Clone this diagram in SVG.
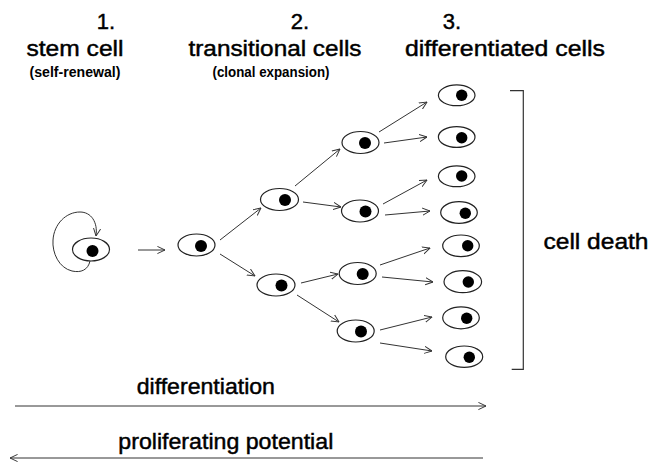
<svg xmlns="http://www.w3.org/2000/svg" width="649" height="462" viewBox="0 0 649 462">
  <style>
    .cell ellipse { fill: #fff; stroke: #222; stroke-width: 1.2; }
    .cell circle { fill: #000; }
    .conn { fill: none; stroke: #333; stroke-width: 1; marker-end: url(#open); }
    .head { font-family: "Liberation Sans", Arial, sans-serif; font-size: 22px; fill: #000; stroke: #000; stroke-width: 0.45; text-anchor: middle; }
    .sub { font-family: "Liberation Sans", Arial, sans-serif; font-size: 14.5px; font-weight: bold; fill: #000; text-anchor: middle; }
    .axis { font-family: "Liberation Sans", Arial, sans-serif; font-size: 22px; fill: #000; stroke: #000; stroke-width: 0.45; }
  </style>
  <defs>
    <marker id="open" viewBox="0 0 10 10" refX="9.5" refY="5" markerWidth="8" markerHeight="9" markerUnits="userSpaceOnUse" orient="auto">
      <path d="M0,0.5 L9.5,5 L0,9.5" fill="none" stroke="#333" stroke-width="1.2"/>
    </marker>
  </defs>
  <rect width="649" height="462" fill="#fff"/>

  <!-- column headings -->
  <g id="headings">
    <text class="head" x="106" y="29">1.</text>
    <text class="head" x="75" y="56" textLength="97" lengthAdjust="spacingAndGlyphs">stem cell</text>
    <text class="sub" x="75" y="77" textLength="91" lengthAdjust="spacingAndGlyphs">(self-renewal)</text>
    <text class="head" x="300" y="29">2.</text>
    <text class="head" x="275" y="56" textLength="173" lengthAdjust="spacingAndGlyphs">transitional cells</text>
    <text class="sub" x="271" y="77" textLength="117" lengthAdjust="spacingAndGlyphs">(clonal expansion)</text>
    <text class="head" x="452" y="29">3.</text>
    <text class="head" x="505" y="56" textLength="200" lengthAdjust="spacingAndGlyphs">differentiated cells</text>
  </g>

  <!-- connectors -->
  <g id="connectors">
    <path class="conn" d="M90,261 C88,270 81,273 72,271 C59,268 52,253 53,240 C54,224 66,212 80,212 C91,212 98,222 96,236"/>
    <line class="conn" x1="138" y1="250" x2="165" y2="250"/>
    <line class="conn" x1="220" y1="240" x2="261" y2="208"/>
    <line class="conn" x1="220" y1="254" x2="255" y2="276"/>
    <line class="conn" x1="295" y1="186" x2="340" y2="149"/>
    <line class="conn" x1="303" y1="202" x2="341" y2="207"/>
    <line class="conn" x1="301" y1="283" x2="338" y2="274"/>
    <line class="conn" x1="297" y1="295" x2="339" y2="322"/>
    <line class="conn" x1="379" y1="132" x2="427" y2="102"/>
    <line class="conn" x1="384" y1="143" x2="427" y2="137"/>
    <line class="conn" x1="383" y1="204" x2="427" y2="180"/>
    <line class="conn" x1="385" y1="215" x2="430" y2="211"/>
    <line class="conn" x1="380" y1="265" x2="430" y2="248"/>
    <line class="conn" x1="382" y1="277" x2="433" y2="282"/>
    <line class="conn" x1="380" y1="330" x2="432" y2="317"/>
    <line class="conn" x1="380" y1="343" x2="432" y2="351"/>
    <!-- long axis arrows -->
    <line class="conn" x1="15" y1="406" x2="486" y2="406"/>
    <line class="conn" x1="483" y1="458" x2="10" y2="458"/>
  </g>

  <!-- stem cell -->
  <g id="stem" class="cell"><ellipse cx="91" cy="249.5" rx="18.5" ry="11.5"/><circle cx="92.5" cy="251" r="6"/></g>
  <!-- transitional cells -->
  <g id="t1" class="cell"><ellipse cx="196.5" cy="245" rx="18.5" ry="11"/><circle cx="201" cy="246" r="6"/></g>
  <g id="t2a" class="cell"><ellipse cx="279.5" cy="199.5" rx="19" ry="11"/><circle cx="285" cy="200" r="6"/></g>
  <g id="t2b" class="cell"><ellipse cx="276" cy="285" rx="19" ry="11"/><circle cx="281.5" cy="285.5" r="6"/></g>
  <g id="t3a" class="cell"><ellipse cx="360.5" cy="142.5" rx="18.5" ry="11"/><circle cx="365" cy="143" r="6"/></g>
  <g id="t3b" class="cell"><ellipse cx="360" cy="211" rx="18.5" ry="11"/><circle cx="365.5" cy="211.5" r="6"/></g>
  <g id="t3c" class="cell"><ellipse cx="357.7" cy="273.5" rx="18.5" ry="11"/><circle cx="362.7" cy="274" r="6"/></g>
  <g id="t3d" class="cell"><ellipse cx="355.7" cy="331" rx="18.5" ry="11"/><circle cx="361" cy="331.5" r="6"/></g>
  <!-- differentiated cells -->
  <g id="d1" class="cell"><ellipse cx="456.7" cy="95.3" rx="18.3" ry="10.4"/><circle cx="461.7" cy="95.3" r="5.7"/></g>
  <g id="d2" class="cell"><ellipse cx="456.7" cy="137" rx="18.3" ry="10.4"/><circle cx="461.7" cy="137.7" r="5.7"/></g>
  <g id="d3" class="cell"><ellipse cx="456.7" cy="176.3" rx="18.3" ry="10.4"/><circle cx="461.7" cy="176" r="5.7"/></g>
  <g id="d4" class="cell"><ellipse cx="459" cy="212.5" rx="18.3" ry="10.8"/><circle cx="465.3" cy="213.3" r="5.7"/></g>
  <g id="d5" class="cell"><ellipse cx="461" cy="245.8" rx="18.3" ry="10.8"/><circle cx="467.7" cy="245.7" r="5.7"/></g>
  <g id="d6" class="cell"><ellipse cx="462.8" cy="281.7" rx="18.8" ry="11"/><circle cx="468.3" cy="282" r="5.7"/></g>
  <g id="d7" class="cell"><ellipse cx="461" cy="317.8" rx="18.3" ry="11"/><circle cx="466.7" cy="318.3" r="5.7"/></g>
  <g id="d8" class="cell"><ellipse cx="464.2" cy="356.7" rx="18.5" ry="10.7"/><circle cx="469.3" cy="357.3" r="5.7"/></g>

  <!-- cell death bracket -->
  <g id="cell-death">
    <path d="M510,90.7 H523.3 V369.3 H511.7" fill="none" stroke="#333" stroke-width="1.2"/>
    <text class="axis" x="543.5" y="249" textLength="105" lengthAdjust="spacingAndGlyphs">cell death</text>
  </g>

  <!-- axis labels -->
  <g id="axis-labels">
    <text class="axis" x="136.7" y="393.5" textLength="138.3" lengthAdjust="spacingAndGlyphs">differentiation</text>
    <text class="axis" x="118.3" y="448.5" textLength="215" lengthAdjust="spacingAndGlyphs">proliferating potential</text>
  </g>
</svg>
